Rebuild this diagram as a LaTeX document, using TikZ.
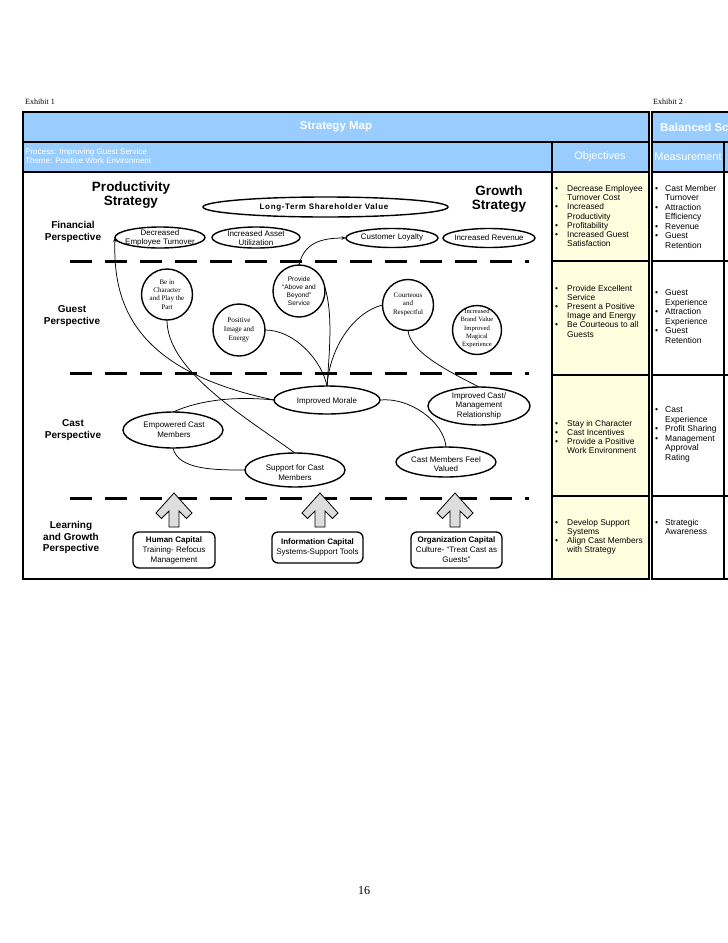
\documentclass[tikz,border=0pt]{standalone}
\usepackage{fontspec}
\setmainfont{Liberation Serif}
\setsansfont{Liberation Sans}
\usetikzlibrary{shapes.geometric,arrows.meta}
\definecolor{hdrblue}{RGB}{153,204,255}
\definecolor{objyellow}{RGB}{255,255,224}
\definecolor{arrowgray}{RGB}{221,221,221}
\newcommand\fsz[2]{\fontsize{#1}{#2}\selectfont}
\newcommand\obul{\makebox[12pt][l]{•}}
\newcommand\oind{\hspace*{12pt}}
\newcommand\msbul{\makebox[10pt][l]{•}}
\newcommand\msind{\hspace*{10pt}}
\begin{document}
\begin{tikzpicture}[x=1pt,y=-1pt,
 frame/.style={line width=1.2pt},
 oval/.style={ellipse, draw, line width=1.4pt, inner sep=0pt, outer sep=0pt},
 circ/.style={circle, draw, line width=1.4pt, inner sep=0pt, outer sep=0pt},
 ovaltext/.style={font=\sffamily\fsz{8}{9.5}, align=center, inner sep=0pt},
 circtext/.style={font=\rmfamily\fsz{7}{8.4}, align=center, inner sep=0pt},
 circsans/.style={font=\sffamily\fsz{6.6}{8}, align=center, inner sep=0pt},
 link/.style={line width=0.75pt},
 linkarrow/.style={link, -{Stealth[length=4.5pt,width=3.5pt]}},
 divider/.style={line width=3pt, dash pattern=on 22pt off 13pt},
 persp/.style={font=\sffamily\bfseries\fsz{10}{11.5}, align=center, inner sep=0pt},
 strat/.style={font=\sffamily\bfseries\fsz{13.5}{14.5}, align=center, inner sep=0pt},
 hdr/.style={font=\sffamily\bfseries\fsz{11.5}{13}, text=white, inner sep=0pt},
 subhdr/.style={font=\sffamily\fsz{11}{13}, text=white, inner sep=0pt},
 cell/.style={font=\sffamily\fsz{8.4}{9.2}, align=left, inner sep=0pt, anchor=west},
 mcell/.style={font=\sffamily\fsz{8.5}{9.5}, align=left, inner sep=0pt, anchor=west},
 capbox/.style={draw, rounded corners=6pt, line width=1.3pt, fill=white, align=center, inner sep=0pt, font=\sffamily\fsz{8}{10}},
 blockarrow/.style={draw, fill=arrowgray, line width=0.8pt, line join=miter},
 exh/.style={font=\rmfamily\fsz{8}{9}, inner sep=0pt, anchor=west},
 uparrow/.pic={\draw[blockarrow] (0,0) -- (18,20) -- (12.5,25.5) -- (5,18) -- (5,34) -- (-5,34) -- (-5,18) -- (-12.5,25.5) -- (-18,20) -- cycle;}
]
\useasboundingbox (0,0) rectangle (728,943);
\clip (0,0) rectangle (728,943);
\fill[white] (0,0) rectangle (728,943);

% ---------- frames ----------
\fill[hdrblue] (23,112) rectangle (649,172);
\fill[objyellow] (552,172) rectangle (649,579);
\draw[frame] (23,112) rectangle (649,579);
\draw[frame] (23,142) -- (649,142);
\draw[frame] (23,172) -- (649,172);
\draw[frame] (552,142) -- (552,579);
\foreach \yy in {261,375,496} \draw[frame] (552,\yy) -- (649,\yy);

\fill[hdrblue] (652,112) rectangle (760,172);
\draw[frame] (652,112) rectangle (760,579);
\draw[frame] (652,142) -- (760,142);
\draw[frame] (652,172) -- (760,172);
\draw[frame] (724,142) -- (724,579);
\foreach \yy in {261,375,496} \draw[frame] (652,\yy) -- (760,\yy);

% ---------- header texts ----------
\node[exh] (ex1) at (25,102) {Exhibit 1};
\node[exh] (ex2) at (653,102) {Exhibit 2};
\node[hdr] (title) at (336,127) {Strategy Map};
\node[hdr, anchor=west] (bsc) at (660,127) {Balanced Sc};
\node[font=\sffamily\fsz{8}{9}, text=white, align=left, anchor=west, inner sep=0pt] (proc) at (25,156.5) {Process: Improving Guest Service\\Theme: Positive Work Environment};
\node[subhdr] (objh) at (600,157) {Objectives};
\node[subhdr] (meash) at (688,157) {Measurement};

% ---------- objectives ----------
\node[cell] (ob1) at (555,216) {\obul Decrease Employee\\\oind Turnover Cost\\\obul Increased\\\oind Productivity\\\obul Profitability\\\obul Increased Guest\\\oind Satisfaction};
\node[cell] (ob2) at (555,311) {\obul Provide Excellent\\\oind Service\\\obul Present a Positive\\\oind Image and Energy\\\obul Be Courteous to all\\\oind Guests};
\node[cell] (ob3) at (555,437) {\obul Stay in Character\\\obul Cast Incentives\\\obul Provide a Positive\\\oind Work Environment};
\node[cell] (ob4) at (555,537) {\obul Develop Support\\\oind Systems\\\obul Align Cast Members\\\oind with Strategy};

% ---------- measurements ----------
\node[mcell] (ms1) at (655,216.5) {\msbul Cast Member\\\msind Turnover\\\msbul Attraction\\\msind Efficiency\\\msbul Revenue\\\msbul Guest\\\msind Retention};
\node[mcell] (ms2) at (655,316.5) {\msbul Guest\\\msind Experience\\\msbul Attraction\\\msind Experience\\\msbul Guest\\\msind Retention};
\node[mcell] (ms3) at (655,434.5) {\msbul Cast\\\msind Experience\\\msbul Profit Sharing\\\msbul Management\\\msind Approval\\\msind Rating};
\node[mcell] (ms4) at (655,527) {\msbul Strategic\\\msind Awareness};

% ---------- perspective labels ----------
\node[persp] (pfin) at (73,232) {Financial\\Perspective};
\node[persp] (pgst) at (72,316) {Guest\\Perspective};
\node[persp] (pcst) at (73,430) {Cast\\Perspective};
\node[persp] (plrn) at (71,537.5) {Learning\\and Growth\\Perspective};

\node[strat] (prod) at (131,195) {Productivity\\Strategy};
\node[strat] (grow) at (499,199) {Growth\\Strategy};

% ---------- dividers ----------
\draw[divider] (70,261) -- (529,261);
\draw[divider] (70,373) -- (529,373);
\draw[divider] (70,498) -- (529,498);

% ---------- financial ----------
\node[oval, minimum width=245pt, minimum height=20pt] (ltsv) at (325.5,207) {};
\node[font=\sffamily\bfseries\fsz{8}{9}\addfontfeature{LetterSpace=8}, inner sep=0pt] (ltsvt) at (324,207) {Long-Term Shareholder Value};
\node[oval, minimum width=90pt, minimum height=21pt] (det) at (160,237.5) {};
\node[ovaltext] (dett) at (160,238) {Decreased\\Employee Turnover};
\node[oval, minimum width=88pt, minimum height=21pt] (iau) at (256,237.5) {};
\node[ovaltext] (iaut) at (256,238) {Increased Asset\\Utilization};
\node[oval, minimum width=92pt, minimum height=19pt] (cl) at (392,238) {};
\node[ovaltext] (clt) at (392,237.5) {Customer Loyalty};
\node[oval, minimum width=92pt, minimum height=19pt] (ir) at (489,238) {};
\node[ovaltext] (irt) at (489,238) {Increased Revenue};

% ---------- guest ----------
\node[circ, minimum size=51pt] (bic) at (167,294.5) {};
\node[circtext] (bict) at (167,294.5) {Be in\\Character\\and Play the\\Part};
\node[circ, minimum size=52pt] (prov) at (299,291) {};
\node[circsans] (provt) at (299,291.3) {Provide\\“Above and\\Beyond”\\Service};
\node[circ, minimum size=52pt] (pos) at (239,330) {};
\node[circtext, font=\rmfamily\fsz{7.2}{9.3}] (post) at (239,330) {Positive\\Image and\\Energy};
\node[circ, minimum size=51pt] (ct) at (408,305) {};
\node[circtext] (ctt) at (408,304.3) {Courteous\\and\\Respectful};
\node[circ, minimum size=49pt] (bv) at (477,330) {};
\node[circtext, font=\rmfamily\fsz{6.6}{8.3}] (bvt) at (477,328.5) {Increased\\Brand Value\\Improved\\Magical\\Experience};

% ---------- cast ----------
\node[oval, minimum width=106pt, minimum height=28pt] (mor) at (327,400) {};
\node[ovaltext] (mort) at (327,401) {Improved Morale};
\node[oval, minimum width=102pt, minimum height=38pt] (icm) at (479,406) {};
\node[ovaltext] (icmt) at (479,405.5) {Improved Cast/\\Management\\Relationship};
\node[oval, minimum width=100pt, minimum height=36pt] (emp) at (173,430) {};
\node[ovaltext] (empt) at (174,429.5) {Empowered Cast\\Members};
\node[oval, minimum width=100pt, minimum height=34pt] (sup) at (295,470) {};
\node[ovaltext] (supt) at (295,472.5) {Support for Cast\\Members};
\node[oval, minimum width=100pt, minimum height=30pt] (cmfv) at (446,462) {};
\node[ovaltext] (cmfvt) at (446,464) {Cast Members Feel\\Valued};

% ---------- learning ----------
\pic at (174,493) {uparrow};
\pic at (320,493) {uparrow};
\pic at (455,493) {uparrow};
\node[capbox, minimum width=82pt, minimum height=36pt] (hc) at (174,550) {\textbf{Human Capital}\\Training- Refocus\\Management};
\node[capbox, minimum width=91pt, minimum height=31pt] (ic) at (317.5,547.5) {\textbf{Information Capital}\\Systems-Support Tools};
\node[capbox, minimum width=91pt, minimum height=36pt] (oc) at (456.5,550) {\textbf{Organization Capital}\\Culture- “Treat Cast as\\Guests”};

% ---------- connectors ----------
\draw[linkarrow] (mor.west) .. controls (130,370) and (113,300) .. (det.west);
\draw[link] (bic.south) .. controls +(0,50) and +(-53,-38) .. (sup.north);
\draw[linkarrow] (prov.north) .. controls +(5,-22) and +(-25,0) .. (cl.west);
\draw[link] (prov.10) .. controls +(8,25) and +(3,-40) .. (mor.north);
\draw[link] (pos.east) .. controls +(30,0) and +(-5,-25) .. (mor.north);
\draw[link] (ct.west) .. controls +(-28,7) and +(3,-40) .. (mor.north);
\draw[link] (ct.south) .. controls +(2,22) and +(-29,-15) .. (icm.north);
\draw[link] (mor.west) .. controls (235,396) and (200,400) .. (emp.north);
\draw[link] (emp.south) .. controls +(5,22) and +(-30,0) .. (sup.west);
\draw[link] (mor.east) .. controls +(30,-3) and +(-2,-25) .. (cmfv.north);

% ---------- page number ----------
\node[font=\rmfamily\fsz{12}{14}, inner sep=0pt] (pg) at (364,891) {16};
\end{tikzpicture}
\end{document}
